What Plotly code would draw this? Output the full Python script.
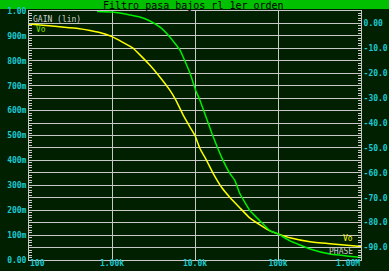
import math
import plotly.graph_objects as go

# ---- data ----
freq_gain = [100, 389, 543, 823, 1000, 1790, 2870, 3790, 5000, 5900, 7230, 8710, 10000,
             11500, 13830, 16600, 20990, 26400, 34800, 46000, 60700, 80100, 100000,
             139500, 243000, 423000, 1000000]
gain = [0.948, 0.93, 0.922, 0.908, 0.897, 0.851, 0.782, 0.734, 0.681, 0.641, 0.581, 0.534, 0.5,
        0.447, 0.399, 0.347, 0.291, 0.251, 0.209, 0.168, 0.141, 0.117, 0.105,
        0.089, 0.073, 0.065, 0.054]

freq_phase = [660, 1000, 1250, 1650, 2170, 2870, 3790, 5000, 6600, 8710, 10200, 11500,
              16000, 21800, 26400, 30300, 34800, 46000, 60700, 80100, 100000, 139500,
              243000, 423000, 1000000]
phase = [4.8, 4.6, 4.2, 3.4, 2.6, 1.0, -1.5, -5.5, -10.7, -20, -26.9, -30.9,
         -44.2, -55.1, -60.3, -63.1, -68.4, -75.2, -79.3, -83.3, -84.5, -87.3,
         -90.6, -92.6, -94.0]

x_tickvals = [100, 1000, 10000, 100000, 1000000]
x_ticktext = ["100", "1.00k", "10.0k", "100k", "1.00M"]

y_tickvals = [i * 0.05 for i in range(21)]
y_ticktext = ["0.00", "", "100m", "", "200m", "", "300m", "", "400m", "", "500m", "",
              "600m", "", "700m", "", "800m", "", "900m", "", "1.00"]

y2_tickvals = [0, -10, -20, -30, -40, -50, -60, -70, -80, -90]
y2_ticktext = ["0.00", "-10.0", "-20.0", "-30.0", "-40.0", "-50.0", "-60.0", "-70.0",
               "-80.0", "-90.0"]

title_text = "Filtro pasa bajos rl 1er orden"

# ---- styles ----
BG = "#002000"
GRID = "#c8c8c8"
CYAN = "#1ec8d2"
FONT = "DejaVu Sans Mono"
TICKFONT = dict(family=FONT, size=8, color=CYAN, weight="bold")

# first and last x labels are edge-aligned (left / right), middle ones centred
axis_ticktext = [""] + x_ticktext[1:-1] + [""]

fig = go.Figure()
fig.add_trace(go.Scatter(x=freq_gain, y=gain, mode="lines",
                         line=dict(color="#ffff00", width=1.5, shape="spline", smoothing=0.3),
                         yaxis="y", showlegend=False))
fig.add_trace(go.Scatter(x=freq_phase, y=phase, mode="lines",
                         line=dict(color="#00ee00", width=1.5, shape="spline", smoothing=0.3),
                         yaxis="y2", showlegend=False))

annotations = [
    dict(text=title_text, xref="paper", yref="paper", x=0.495, y=1.024, yanchor="middle",
         showarrow=False, borderpad=0,
         font=dict(family=FONT, size=10, color="#000000")),
    dict(text="GAIN (lin)", xref="paper", yref="paper", x=0.006, y=0.99, xanchor="left",
         yanchor="top", showarrow=False, font=dict(family=FONT, size=8, color="#d0d0d0")),
    dict(text="Vo", xref="paper", yref="paper", x=0.014, y=0.95, xanchor="left",
         yanchor="top", showarrow=False, font=dict(family=FONT, size=8, color="#80e000")),
    dict(text="Vo", xref="paper", yref="paper", x=0.982, y=0.087, xanchor="right",
         yanchor="middle", showarrow=False, font=dict(family=FONT, size=8, color="#ffff00")),
    dict(text="PHASE", xref="paper", yref="paper", x=0.982, y=0.033, xanchor="right",
         yanchor="middle", showarrow=False, font=dict(family=FONT, size=8, color="#c8c8c8")),
]
for val, txt, anchor in [(x_tickvals[0], x_ticktext[0], "left"),
                         (x_tickvals[-1], x_ticktext[-1], "right")]:
    annotations.append(dict(text=txt, xref="x", yref="paper", x=math.log10(val), y=0,
                            xanchor=anchor, yanchor="top", yshift=2, showarrow=False,
                            borderpad=0, font=TICKFONT))

fig.update_layout(
    width=389, height=271,
    margin=dict(l=29, r=28, t=11, b=11),
    paper_bgcolor=BG, plot_bgcolor=BG,
    template="none",
    font=dict(family=FONT, size=8, color=CYAN),
    xaxis=dict(type="log", range=[2, 6], tickvals=x_tickvals, ticktext=axis_ticktext,
               showgrid=True, gridcolor=GRID, gridwidth=1, showline=True, linecolor=GRID,
               linewidth=1, mirror=True, ticks="", zeroline=False, automargin=False,
               ticklabelstandoff=-5, tickfont=TICKFONT),
    yaxis=dict(range=[0, 1], tickvals=y_tickvals, ticktext=y_ticktext, showgrid=True,
               gridcolor=GRID, gridwidth=1, showline=True, linecolor=GRID, linewidth=1,
               ticks="inside", ticklen=3, tickcolor=GRID, zeroline=False, automargin=False,
               minor=dict(dtick=0.01, ticks="inside", ticklen=3, tickcolor=GRID, showgrid=False),
               tickfont=TICKFONT),
    yaxis2=dict(range=[-95, 5], overlaying="y", side="right", tickvals=y2_tickvals,
                ticktext=y2_ticktext, showgrid=False, showline=True, linecolor=GRID,
                linewidth=1, ticks="inside", ticklen=3, tickcolor=GRID, zeroline=False,
                automargin=False,
                minor=dict(dtick=1, ticks="inside", ticklen=3, tickcolor=GRID, showgrid=False),
                tickfont=TICKFONT),
    shapes=[dict(type="rect", xref="paper", yref="paper", x0=-0.2, x1=1.2, y0=1.008,
                 y1=1.2, fillcolor="#00c000", line=dict(width=0), layer="below")],
    annotations=annotations,
)

fig.write_html("out.html")
